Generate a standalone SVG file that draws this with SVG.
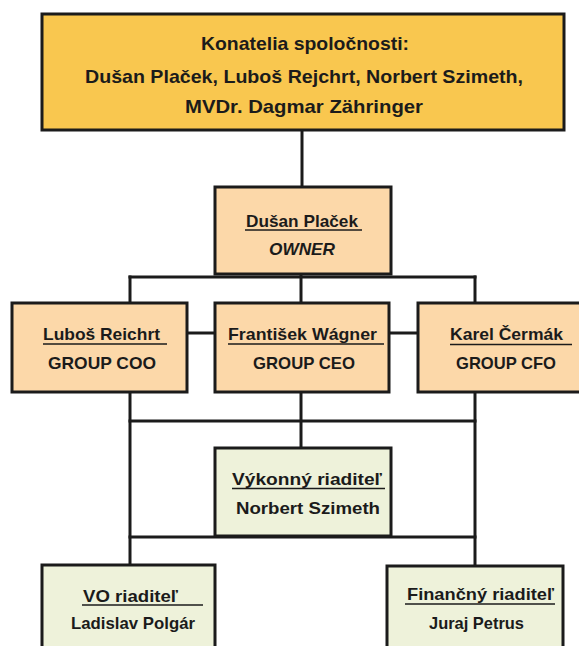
<svg xmlns="http://www.w3.org/2000/svg" width="579" height="646" viewBox="0 0 579 646">
<style>
  .box{stroke:#1b1b1b;stroke-width:3}
  .gold{fill:#F9C74F}
  .peach{fill:#FCD8A9}
  .green{fill:#EEF2DA}
  .conn line{stroke:#1b1b1b;stroke-width:3;stroke-linecap:square}
  text{font-family:"Liberation Sans",Arial,sans-serif;font-weight:bold;fill:#1b1b1b;text-anchor:middle}
  .t19{font-size:19px}
  .t17{font-size:17px}
  .ul{stroke:#1b1b1b;stroke-width:1.6}
</style>
<rect width="579" height="646" fill="#ffffff"/>
<g id="connectors" class="conn">
  <line x1="302" y1="130" x2="302" y2="187"/>
  <line x1="130" y1="277" x2="475" y2="277"/>
  <line x1="130" y1="277" x2="130" y2="303"/>
  <line x1="301" y1="274" x2="301" y2="303"/>
  <line x1="475" y1="277" x2="475" y2="303"/>
  <line x1="187" y1="333" x2="215" y2="333"/>
  <line x1="389" y1="333" x2="418" y2="333"/>
  <line x1="130" y1="392" x2="130" y2="565"/>
  <line x1="301" y1="392" x2="301" y2="448"/>
  <line x1="475" y1="392" x2="475" y2="566"/>
  <line x1="130" y1="421" x2="475" y2="421"/>
  <line x1="130" y1="537" x2="475" y2="537"/>
</g>
<g id="konatelia">
  <rect class="box gold" x="42" y="14" width="522" height="116"/>
  <text class="t19" x="305" y="50" textLength="208" lengthAdjust="spacingAndGlyphs">Konatelia spoločnosti:</text>
  <text class="t19" x="304" y="83" textLength="438" lengthAdjust="spacingAndGlyphs">Dušan Plaček, Luboš Rejchrt, Norbert Szimeth,</text>
  <text class="t19" x="304" y="113" textLength="238" lengthAdjust="spacingAndGlyphs">MVDr. Dagmar Zähringer</text>
</g>
<g id="owner">
  <rect class="box peach" x="215" y="187" width="176" height="87"/>
  <text class="t17" x="302" y="227" textLength="112" lengthAdjust="spacingAndGlyphs">Dušan Plaček</text>
  <line class="ul" x1="245" y1="230" x2="362" y2="230"/>
  <text class="t17" x="302" y="255" font-style="italic" textLength="66" lengthAdjust="spacingAndGlyphs">OWNER</text>
</g>
<g id="coo">
  <rect class="box peach" x="12" y="303" width="175" height="89"/>
  <text class="t17" x="101.5" y="340" textLength="117" lengthAdjust="spacingAndGlyphs">Luboš Reichrt</text>
  <line class="ul" x1="43" y1="344" x2="167" y2="344"/>
  <text class="t17" x="102" y="369" textLength="108" lengthAdjust="spacingAndGlyphs">GROUP COO</text>
</g>
<g id="ceo">
  <rect class="box peach" x="215" y="303" width="174" height="89"/>
  <text class="t17" x="302.5" y="340" textLength="149" lengthAdjust="spacingAndGlyphs">František Wágner</text>
  <line class="ul" x1="228" y1="344" x2="384" y2="344"/>
  <text class="t17" x="304" y="369" textLength="102" lengthAdjust="spacingAndGlyphs">GROUP CEO</text>
</g>
<g id="cfo">
  <rect class="box peach" x="418" y="303" width="163" height="89"/>
  <text class="t17" x="506.5" y="340" textLength="113" lengthAdjust="spacingAndGlyphs">Karel Čermák</text>
  <line class="ul" x1="450" y1="344.5" x2="572" y2="344.5"/>
  <text class="t17" x="506" y="369" textLength="100" lengthAdjust="spacingAndGlyphs">GROUP CFO</text>
</g>
<g id="vykonny">
  <rect class="box green" x="215" y="448" width="176" height="88"/>
  <text class="t17" x="307" y="485" textLength="150" lengthAdjust="spacingAndGlyphs">Výkonný riaditeľ</text>
  <line class="ul" x1="232" y1="488.5" x2="385" y2="488.5"/>
  <text class="t17" x="308" y="514" textLength="144" lengthAdjust="spacingAndGlyphs">Norbert Szimeth</text>
</g>
<g id="vo">
  <rect class="box green" x="42" y="565" width="173" height="90"/>
  <text class="t17" x="130.5" y="602" textLength="95" lengthAdjust="spacingAndGlyphs">VO riaditeľ</text>
  <line class="ul" x1="82" y1="605" x2="203" y2="605"/>
  <text class="t17" x="133" y="629" textLength="124" lengthAdjust="spacingAndGlyphs">Ladislav Polgár</text>
</g>
<g id="financny">
  <rect class="box green" x="387" y="566" width="176" height="90"/>
  <text class="t17" x="480.5" y="600" textLength="147" lengthAdjust="spacingAndGlyphs">Finančný riaditeľ</text>
  <line class="ul" x1="405" y1="604" x2="555" y2="604"/>
  <text class="t17" x="476.5" y="629" textLength="95" lengthAdjust="spacingAndGlyphs">Juraj Petrus</text>
</g>
</svg>
